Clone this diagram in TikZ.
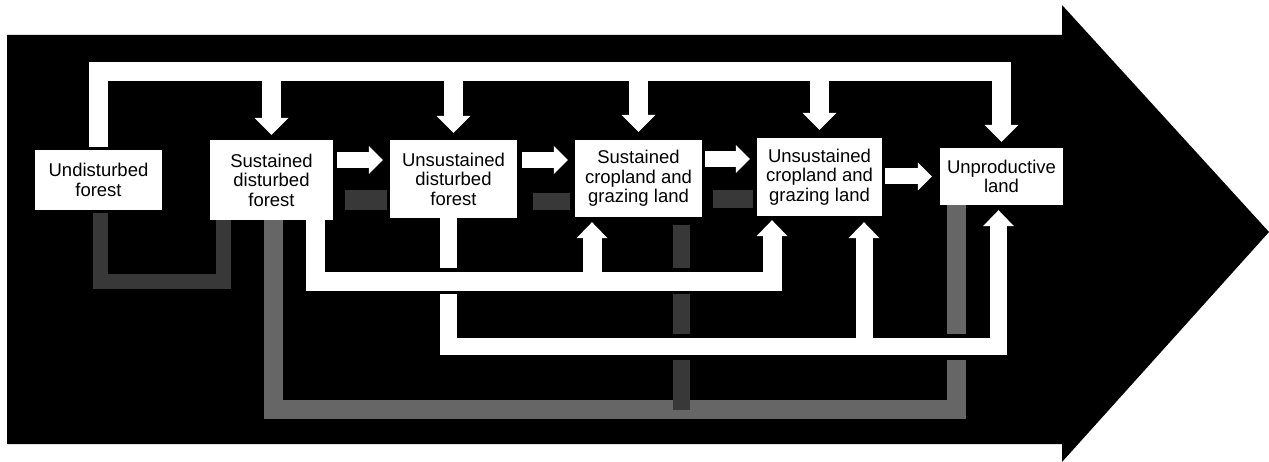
\documentclass[tikz,border=0pt]{standalone}
\usepackage{fontspec}
\setmainfont{Liberation Sans}
\usetikzlibrary{arrows.meta}
\tikzset{
  box/.style={fill=white, inner sep=0pt, align=center, font=\fontsize{18.5}{19.5}\selectfont},
  fatV/.style={draw=white, line width=19pt, -{Triangle[length=17pt,width=34pt,line width=0pt]}},
  fatU/.style={draw=white, line width=18pt, -{Triangle[length=16pt,width=31pt,line width=0pt]}},
  fatH/.style={draw=white, line width=16pt, -{Triangle[length=14pt,width=28pt,line width=0pt]}},
  busline/.style={draw=white, line width=18pt},
  casing/.style={draw=black, line width=26pt},
  greyS/.style={draw=white!40!black, line width=18pt},
  greyF/.style={draw=white!22!black, line width=16pt},
}
\begin{document}
\begin{tikzpicture}[x=1pt, y=-1pt]
\useasboundingbox (0,0) rectangle (1269,462);
% big black arrow
\fill[black] (7,35) -- (1062,35) -- (1062,5) -- (1269,232) -- (1062,462) -- (1062,444) -- (7,444) -- cycle;

% boxes
\node[box, minimum width=127pt, minimum height=60pt] (ud) at (98.5,180) {Undisturbed\\forest};
\node[box, minimum width=123pt, minimum height=80pt] (sdf) at (271.5,180) {Sustained\\disturbed\\forest};
\node[box, minimum width=127pt, minimum height=78pt] (udf) at (453.5,179) {Unsustained\\disturbed\\forest};
\node[box, minimum width=127pt, minimum height=77pt] (scl) at (638.5,178.5) {Sustained\\cropland and\\grazing land};
\node[box, minimum width=125pt, minimum height=78pt] (ucl) at (819.5,177) {Unsustained\\cropland and\\grazing land};
\node[box, minimum width=123pt, minimum height=57pt] (ul) at (1001.5,176.5) {Unproductive\\land};

\coordinate (busT) at (0,71.5);
\coordinate (busA) at (0,281.5);
\coordinate (busB) at (0,346.5);
\coordinate (busC) at (0,409.5);

% grey (stippled) paths
\draw[greyF, line width=15pt, shorten <=3pt] (100,0 |- ud.south) |- (223.5,0 |- busA) -- (223.5,0 |- sdf.south);
\draw[greyS, line width=19pt] (273,0 |- sdf.south) |- (956,0 |- busC) -- (956,0 |- ul.south);
\draw[greyF, line width=17pt, shorten >=8pt] (681.5,0 |- busC) -- (681.5,0 |- scl.south);
\draw[greyF, line width=20pt, shorten <=12pt, shorten >=3pt] (sdf.east |- 0,200) -- (udf.west |- 0,200);
\draw[greyF, line width=17pt, shorten <=16pt, shorten >=5pt] (udf.east |- 0,201.5) -- (scl.west |- 0,201.5);
\draw[greyF, line width=18pt, shorten <=11pt, shorten >=4pt] (scl.east |- 0,199) -- (ucl.west |- 0,199);

% route B (white)
\draw[casing, shorten >=5pt] (448.5,0 |- udf.south) |- (998.5,0 |- busB) -- (998.5,0 |- ul.south);
\draw[fatU, line width=17pt, shorten >=5pt] (448.5,0 |- udf.south) |- (998.5,0 |- busB) -- (998.5,0 |- ul.south);
\draw[fatU, line width=17pt, shorten >=6pt] (864,0 |- busB) -- (864,0 |- ucl.south);

% route A (white)
\draw[casing, shorten >=4pt] (315,0 |- sdf.south) |- (772,0 |- busA) -- (772,0 |- ucl.south);
\draw[fatU, line width=19pt, shorten >=4pt] (315,0 |- sdf.south) |- (772,0 |- busA) -- (772,0 |- ucl.south);
\draw[fatU, line width=19pt, shorten >=5pt] (592,0 |- busA) -- (592,0 |- scl.south);

% top bus
\draw[fatV, shorten <=3pt, shorten >=6pt] (ud.north) |- (ul.north |- busT) -- (ul.north);
\draw[fatV, shorten >=5pt] (sdf.north |- busT) -- (sdf.north);
\draw[fatV, shorten >=7pt] (udf.north |- busT) -- (udf.north);
\draw[fatV, shorten >=8pt] (scl.north |- busT) -- (scl.north);
\draw[fatV, shorten >=8pt] (ucl.north |- busT) -- (ucl.north);

% horizontal arrows
\draw[fatH, shorten <=4pt, shorten >=7pt] (sdf.east |- 0,160) -- (udf.west |- 0,160);
\draw[fatH, shorten <=5pt, shorten >=7pt] (udf.east |- 0,160) -- (scl.west |- 0,160);
\draw[fatH, shorten <=3pt, shorten >=7pt] (scl.east |- 0,159) -- (ucl.west |- 0,159);
\draw[fatH, shorten <=3pt, shorten >=8pt] (ucl.east |- ul.west) -- (ul.west);
\end{tikzpicture}
\end{document}
